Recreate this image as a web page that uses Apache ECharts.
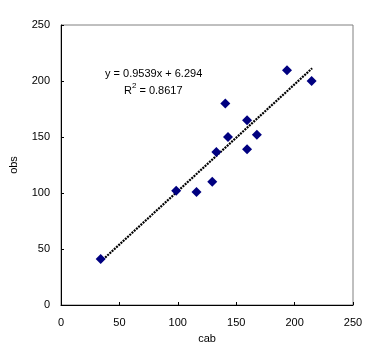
<!DOCTYPE html>
<html>
<head>
<meta charset="utf-8">
<script src="https://cdn.jsdelivr.net/npm/echarts@6/dist/echarts.min.js"></script>
<style>html,body{margin:0;padding:0;background:#fff}#c{width:381px;height:353px}</style>
</head>
<body>
<div id="c"></div>
<script>
const cabValues = [34, 98.6, 116, 129.5, 133, 140.7, 143, 159.3, 159.3, 167.7, 193.5, 214.6];
const obsValues = [41, 102, 101, 110, 136.5, 180, 150, 165, 139, 152, 209.5, 200];
const trendSlope = 0.9539;
const trendIntercept = 6.294;
const trendRange = [34, 215];
const axisTicks = [0, 50, 100, 150, 200, 250];
const equationText = 'y = 0.9539x + 6.294';
const r2Value = '0.8617';

const points = cabValues.map((x, i) => [x, obsValues[i]]);
const trend = trendRange.map(x => [x, trendSlope * x + trendIntercept]);
const font = 'Liberation Sans, Arial, sans-serif';

const chart = echarts.init(document.getElementById('c'), null, {renderer: 'canvas'});
chart.setOption({
  animation: false,
  backgroundColor: '#fff',
  grid: {left: 57, right: 28, top: 25, bottom: 48, show: true, borderColor: '#808080', borderWidth: 1, backgroundColor: 'transparent'},
  xAxis: {
    type: 'value', min: axisTicks[0], max: axisTicks[axisTicks.length - 1], interval: 50,
    name: 'cab', nameLocation: 'middle', nameGap: 28,
    nameTextStyle: {color: '#000', fontFamily: font, fontSize: 11},
    axisLine: {show: true, onZero: false, lineStyle: {color: '#000', width: 1}},
    axisTick: {show: true, inside: true, length: 3, lineStyle: {color: '#000'}},
    axisLabel: {color: '#000', fontFamily: font, fontSize: 11, margin: 12},
    splitLine: {show: false}
  },
  yAxis: {
    type: 'value', min: axisTicks[0], max: axisTicks[axisTicks.length - 1], interval: 50,
    name: 'obs', nameLocation: 'middle', nameGap: 42, nameRotate: 90,
    nameTextStyle: {color: '#000', fontFamily: font, fontSize: 11},
    axisLine: {show: true, onZero: false, lineStyle: {color: '#000', width: 1}},
    axisTick: {show: true, inside: true, length: 3, lineStyle: {color: '#000'}},
    axisLabel: {color: '#000', fontFamily: font, fontSize: 11, margin: 11},
    splitLine: {show: false}
  },
  series: [
    {
      type: 'line', data: trend, showSymbol: false, symbol: 'none',
      lineStyle: {color: '#000', width: 2.2, type: [2, 1]}, z: 2
    },
    {
      type: 'scatter', data: points, symbol: 'diamond', symbolSize: 10,
      itemStyle: {color: '#000080', opacity: 1}, z: 3
    }
  ],
  graphic: [
    {type: 'text', left: 105, top: 68, style: {text: equationText, font: '11px ' + font, fill: '#000'}},
    {type: 'text', left: 124, top: 82, style: {
      text: '{a|R}{s|2}{a| = ' + r2Value + '}',
      rich: {a: {font: '11px ' + font, fill: '#000', color: '#000', verticalAlign: 'bottom'},
             s: {font: '8px ' + font, color: '#000', verticalAlign: 'top', padding: [0, 0, 6, 0]}}
    }}
  ]
});
</script>
</body>
</html>
